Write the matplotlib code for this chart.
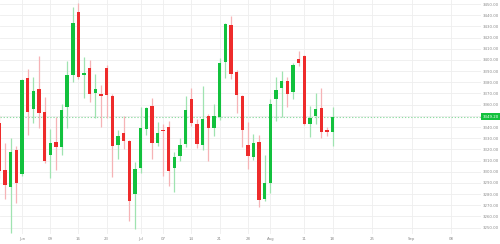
import matplotlib.pyplot as plt

# daily gold candles, 27 May - 18 Aug
dates = ['May 27', 'May 28', 'May 29', 'May 30',
         'Jun 02', 'Jun 03', 'Jun 04', 'Jun 05', 'Jun 06',
         'Jun 09', 'Jun 10', 'Jun 11', 'Jun 12', 'Jun 13',
         'Jun 16', 'Jun 17', 'Jun 18', 'Jun 19', 'Jun 20',
         'Jun 23', 'Jun 24', 'Jun 25', 'Jun 26', 'Jun 27',
         'Jun 30', 'Jul 01', 'Jul 02', 'Jul 03', 'Jul 04',
         'Jul 07', 'Jul 08', 'Jul 09', 'Jul 10', 'Jul 11',
         'Jul 14', 'Jul 15', 'Jul 16', 'Jul 17', 'Jul 18',
         'Jul 21', 'Jul 22', 'Jul 23', 'Jul 24', 'Jul 25',
         'Jul 28', 'Jul 29', 'Jul 30', 'Jul 31', 'Aug 01',
         'Aug 04', 'Aug 05', 'Aug 06', 'Aug 07', 'Aug 08',
         'Aug 11', 'Aug 12', 'Aug 13', 'Aug 14', 'Aug 15',
         'Aug 18']
opens = [3343.8, 3301.5, 3286.6, 3319.4, 3297.9, 3383.8, 3355.8, 3373.7, 3353.7, 3314.9,
         3326.8, 3321.8, 3358.1, 3386.5, 3442.8, 3386.8, 3392.5, 3370.7, 3369.2, 3392.5,
         3368.0, 3324.2, 3334.9, 3327.2, 3280.1, 3303.0, 3337.9, 3358.8, 3325.9, 3337.3,
         3339.7, 3303.0, 3314.0, 3324.8, 3364.8, 3342.7, 3323.9, 3349.8, 3339.4, 3349.2,
         3398.4, 3431.2, 3389.4, 3368.0, 3323.9, 3313.4, 3326.3, 3275.3, 3289.6, 3365.0,
         3374.6, 3381.1, 3371.0, 3400.5, 3403.5, 3342.7, 3349.8, 3357.2, 3337.3, 3335.8]
highs = [3350.7, 3325.7, 3330.4, 3323.3, 3382.9, 3391.9, 3384.4, 3403.5, 3367.1, 3338.2,
         3349.2, 3360.3, 3399.0, 3447.1, 3451.2, 3402.9, 3399.9, 3387.4, 3377.5, 3395.4,
         3369.2, 3337.3, 3350.1, 3328.5, 3308.9, 3357.6, 3358.1, 3365.6, 3344.7, 3342.7,
         3345.6, 3317.9, 3329.9, 3368.0, 3374.6, 3346.9, 3376.9, 3351.6, 3360.6, 3401.4,
         3433.3, 3439.5, 3391.0, 3369.0, 3344.7, 3333.7, 3332.8, 3314.9, 3364.8, 3385.0,
         3390.3, 3385.0, 3397.0, 3408.2, 3404.5, 3358.8, 3370.7, 3374.6, 3340.2, 3358.1]
lows = [3294.4, 3275.6, 3245.4, 3271.7, 3296.0, 3332.8, 3343.8, 3339.4, 3307.5, 3294.1,
        3301.5, 3314.9, 3338.8, 3380.5, 3382.6, 3366.2, 3362.6, 3347.8, 3340.2, 3347.8,
        3295.5, 3311.4, 3320.0, 3255.9, 3248.5, 3298.6, 3332.8, 3311.4, 3323.0, 3296.2,
        3287.2, 3282.1, 3309.8, 3322.4, 3340.9, 3320.9, 3319.4, 3309.8, 3332.0, 3346.2,
        3383.5, 3382.6, 3352.2, 3322.4, 3302.1, 3310.5, 3268.2, 3273.8, 3281.2, 3345.6,
        3349.2, 3358.1, 3365.0, 3394.4, 3342.0, 3331.3, 3342.7, 3329.9, 3332.2, 3323.3]
closes = [3300.9, 3288.1, 3317.4, 3290.2, 3382.0, 3353.1, 3372.2, 3352.2, 3309.6, 3325.4,
          3322.4, 3354.9, 3386.5, 3432.7, 3384.4, 3388.6, 3369.2, 3373.7, 3367.7, 3368.6,
          3323.0, 3331.9, 3327.7, 3274.1, 3302.4, 3338.8, 3356.7, 3325.4, 3334.9, 3336.1,
          3300.9, 3313.4, 3323.9, 3355.2, 3343.3, 3324.5, 3347.1, 3338.8, 3349.8, 3397.0,
          3431.8, 3387.1, 3368.6, 3337.3, 3314.3, 3325.9, 3274.7, 3289.6, 3360.6, 3373.1,
          3380.9, 3369.2, 3395.4, 3397.5, 3342.4, 3347.8, 3356.1, 3335.2, 3335.5, 3349.2]

# x axis labels: bar slot of each label (future slots are calendar days)
tick_slots = [4, 9, 14, 19, 25, 29, 34, 39, 44, 48, 54, 59, 66, 73, 80]
tick_labels = ['Jun', '09', '16', '23', 'Jul', '07', '14', '21', '28', 'Aug', '11', '18', '25', 'Sep', '08']
price_levels = list(range(3250, 3451, 10))

up_body = '#12c13d'
down_body = '#ee2b2b'
up_wick = '#9fe3b0'
down_wick = '#f6b3b6'

# narrow font so the price labels fit in the right margin
plt.rcParams['font.family'] = ['Liberation Sans Narrow', 'DejaVu Sans']

fig = plt.figure(figsize=(5, 2.44), dpi=100)
ax = fig.add_axes([0, 10 / 244, 481 / 500, 234 / 244])

slots = list(range(len(dates)))
colors = [up_body if c >= o else down_body for o, c in zip(opens, closes)]
wick_colors = [up_wick if c >= o else down_wick for o, c in zip(opens, closes)]

# wicks
ax.vlines(slots, lows, highs, colors=wick_colors, linewidth=0.9, zorder=2)

# bodies (keep tiny ones visible)
bottoms = [min(o, c) for o, c in zip(opens, closes)]
heights = [max(abs(c - o), 1.4) for o, c in zip(opens, closes)]
ax.bar(slots, heights, bottom=bottoms, width=0.6, color=colors, linewidth=0, zorder=3)

# last price line + tag
last = closes[-1]
ax.axhline(last, color='#8fdca3', linestyle=(0, (1.2, 1.6)), linewidth=0.8, zorder=1)
ax.annotate('%.2f' % last, xy=(1.0, last), xycoords=('axes fraction', 'data'),
            xytext=(1.0, 0), textcoords='offset points', va='center', ha='left',
            fontsize=2.8, color='white',
            bbox=dict(boxstyle='square,pad=0.35', facecolor=up_body, edgecolor='none'),
            annotation_clip=False, zorder=5)

ax.set_xlim(0.1, 85.3)
ax.set_ylim(3244.3, 3453.6)

ax.set_xticks(tick_slots)
ax.set_xticklabels(tick_labels)
ax.set_yticks(price_levels)
ax.set_yticklabels(['%.2f' % p for p in price_levels])
ax.yaxis.tick_right()
ax.tick_params(axis='both', length=0, labelsize=2.8, labelcolor='#8a8a8a')
ax.tick_params(axis='x', pad=2.4)
ax.tick_params(axis='y', pad=1.2)

ax.grid(True, color='#eeeeee', linewidth=0.6, zorder=0)
ax.set_axisbelow(True)
for s in ax.spines.values():
    s.set_visible(False)

plt.savefig('out.png', dpi=100, facecolor='white')
